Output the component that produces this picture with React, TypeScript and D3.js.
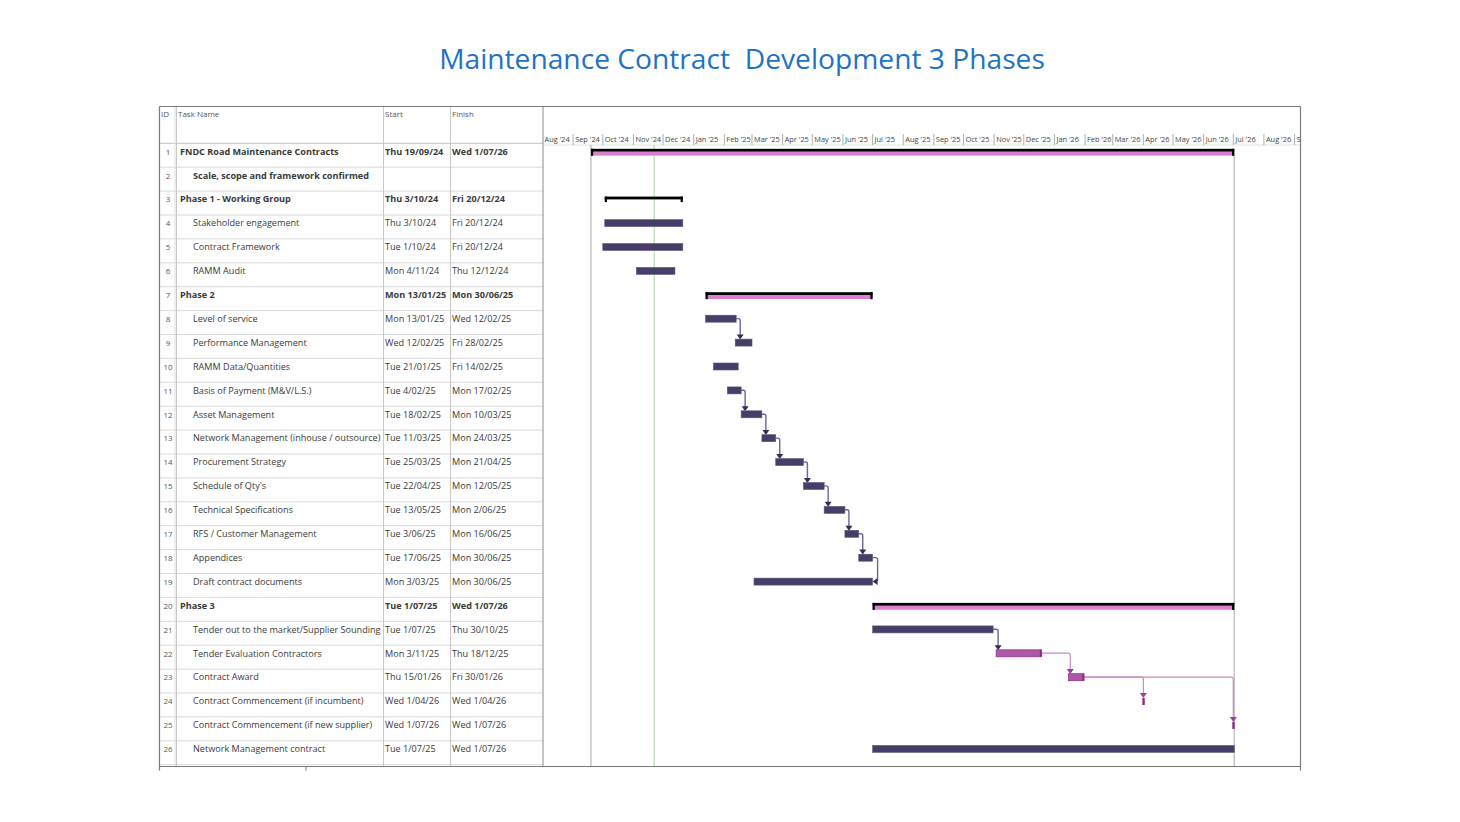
import React from "react";
import * as d3 from "d3";

// ---------------- DATA ----------------
const TITLE = "Maintenance Contract  Development 3 Phases";

const IDS = [1, 2, 3, 4, 5, 6, 7, 8, 9, 10, 11, 12, 13, 14, 15, 16, 17, 18, 19, 20, 21, 22, 23, 24, 25, 26];

const NAMES = [
  "FNDC Road Maintenance Contracts",
  "Scale, scope and framework confirmed",
  "Phase 1 - Working Group",
  "Stakeholder engagement",
  "Contract Framework",
  "RAMM Audit",
  "Phase 2",
  "Level of service",
  "Performance Management",
  "RAMM Data/Quantities",
  "Basis of Payment (M&V/L.S.)",
  "Asset Management",
  "Network Management (inhouse / outsource)",
  "Procurement Strategy",
  "Schedule of Qty's",
  "Technical Specifications",
  "RFS / Customer Management",
  "Appendices",
  "Draft contract documents",
  "Phase 3",
  "Tender out to the market/Supplier Sounding",
  "Tender Evaluation Contractors",
  "Contract Award",
  "Contract Commencement (if incumbent)",
  "Contract Commencement (if new supplier)",
  "Network Management contract",
];

const STARTS = [
  "Thu 19/09/24", "", "Thu 3/10/24", "Thu 3/10/24", "Tue 1/10/24", "Mon 4/11/24",
  "Mon 13/01/25", "Mon 13/01/25", "Wed 12/02/25", "Tue 21/01/25", "Tue 4/02/25",
  "Tue 18/02/25", "Tue 11/03/25", "Tue 25/03/25", "Tue 22/04/25", "Tue 13/05/25",
  "Tue 3/06/25", "Tue 17/06/25", "Mon 3/03/25", "Tue 1/07/25", "Tue 1/07/25",
  "Mon 3/11/25", "Thu 15/01/26", "Wed 1/04/26", "Wed 1/07/26", "Tue 1/07/25",
];

const FINISHES = [
  "Wed 1/07/26", "", "Fri 20/12/24", "Fri 20/12/24", "Fri 20/12/24", "Thu 12/12/24",
  "Mon 30/06/25", "Wed 12/02/25", "Fri 28/02/25", "Fri 14/02/25", "Mon 17/02/25",
  "Mon 10/03/25", "Mon 24/03/25", "Mon 21/04/25", "Mon 12/05/25", "Mon 2/06/25",
  "Mon 16/06/25", "Mon 30/06/25", "Mon 30/06/25", "Wed 1/07/26", "Thu 30/10/25",
  "Thu 18/12/25", "Fri 30/01/26", "Wed 1/04/26", "Wed 1/07/26", "Wed 1/07/26",
];

// outline level: 0 = top/phase, 1 = sub task
const LEVELS = [0, 1, 0, 1, 1, 1, 0, 1, 1, 1, 1, 1, 1, 1, 1, 1, 1, 1, 1, 0, 1, 1, 1, 1, 1, 1];
const BOLD = [1, 1, 1, 0, 0, 0, 1, 0, 0, 0, 0, 0, 0, 0, 0, 0, 0, 0, 0, 1, 0, 0, 0, 0, 0, 0];

// bar kind
const KINDS = [
  "summary", "none", "summaryPlain", "task", "task", "task",
  "summary", "task", "task", "task", "task", "task", "task", "task", "task", "task",
  "task", "task", "task", "summary", "task", "crit", "crit", "milestone", "milestone", "task",
];

// links: [predecessor id, successor id, type]
const LINKS: [number, number, string][] = [
  [8, 9, "FS"], [11, 12, "FS"], [12, 13, "FS"], [13, 14, "FS"], [14, 15, "FS"],
  [15, 16, "FS"], [16, 17, "FS"], [17, 18, "FS"], [18, 19, "FF"],
  [21, 22, "FS"], [22, 23, "FS"], [23, 24, "FS"], [23, 25, "FS"],
];

const TIMELINE_START = "2024-08-01";
const TIMELINE_END = "2026-09-07";
const STATUS_DATE = "2024-11-22";

// ---------------- LAYOUT ----------------
const W = 1460, H = 822;
const FL = 159.5, FR = 1300.5, FT = 106.5, FB = 766.5;
const COL_ID = 176.5, COL_START = 383.5, COL_FIN = 450.5, COL_GANTT = 543;
const ROW0 = 143.3, ROWH = 23.9;
const FONT = "'Open Sans', 'Noto Sans', sans-serif";

function parseDay(s: string): Date | null {
  if (!s) return null;
  const part = s.split(" ")[1];
  const [dd, mm, yy] = part.split("/").map(Number);
  return new Date(2000 + yy, mm - 1, dd);
}
function parseIso(s: string): Date {
  const [y, m, d] = s.split("-").map(Number);
  return new Date(y, m - 1, d);
}

const DARK = "#463e66";
const MAG = "#ad58a7";
const MAG_DARK = "#8c2c86";
const PINK = "#dc7fcf";

export default function App() {
  const x = d3
    .scaleTime()
    .domain([parseIso(TIMELINE_START), parseIso(TIMELINE_END)])
    .range([COL_GANTT - 0.5, FR]);

  const rowTop = (i: number) => ROW0 + i * ROWH;
  const cy = (i: number) => rowTop(i) + 8;

  const tasks = IDS.map((id, i) => {
    const s = parseDay(STARTS[i]);
    const f = parseDay(FINISHES[i]);
    const fEnd = f ? d3.timeDay.offset(f, 1) : null;
    return {
      id, i, kind: KINDS[i],
      x0: s ? x(s) : 0,
      x1: fEnd ? x(fEnd) : 0,
      xm: s ? x(s) : 0,
    };
  });

  const months = d3.timeMonth.range(x.domain()[0], d3.timeMonth.offset(x.domain()[1], 1));
  const fmt = d3.timeFormat("%b '%y");

  const projStart = tasks[0].x0;
  const projEnd = tasks[0].x1;
  const statusX = x(parseIso(STATUS_DATE));

  const linkEls: React.ReactNode[] = [];
  LINKS.forEach(([p, s, type], k) => {
    const a = tasks[p - 1];
    const b = tasks[s - 1];
    const y1 = cy(a.i);
    const magenta = a.kind === "crit";
    const line = magenta ? "#c98ac4" : "#6d6790";
    const head = magenta ? "#a03a99" : "#352d55";
    if (type === "FF") {
      const xv = a.x1 + 5;
      const y2 = cy(b.i);
      linkEls.push(
        <g key={"l" + k}>
          <path d={`M${a.x1},${y1}H${xv - 2}Q${xv},${y1} ${xv},${y1 + 2}V${y2 - 2}Q${xv},${y2} ${xv - 2},${y2}H${b.x1 + 3}`} fill="none" stroke={line} strokeWidth={1.4} />
          <path d={`M${b.x1},${y2}L${b.x1 + 5},${y2 - 3.5}L${b.x1 + 5},${y2 + 3.5}Z`} fill={head} />
        </g>
      );
    } else {
      const targetX = b.kind === "milestone" ? b.xm : b.x0 + 2;
      const xv = Math.max(a.x1 + 4, targetX);
      const tipY = cy(b.i) - 3;
      linkEls.push(
        <g key={"l" + k}>
          <path d={`M${a.x1},${y1}H${xv - 2}Q${xv},${y1} ${xv},${y1 + 2}V${tipY - 4}`} fill="none" stroke={line} strokeWidth={magenta ? 1.2 : 1.4} />
          <path d={`M${xv - 3.5},${tipY - 5}L${xv + 3.5},${tipY - 5}L${xv},${tipY}Z`} fill={head} />
        </g>
      );
    }
  });

  return (
    <svg width={W} height={H} style={{ position: "absolute", left: 0, top: 0, background: "#fff" }}>
      <defs>
        <clipPath id="gclip">
          <rect x={COL_GANTT} y={FT} width={FR - COL_GANTT} height={FB - FT} />
        </clipPath>
      </defs>

      {/* Title */}
      <text x={742} y={69} textAnchor="middle" fontFamily={FONT} fontSize={28.2} fill="#1f72c4" style={{ whiteSpace: "pre" }}>
        {TITLE}
      </text>

      {/* table row lines */}
      {IDS.map((_, i) => (
        <line key={"rl" + i} x1={FL} x2={COL_GANTT} y1={rowTop(i + 1)} y2={rowTop(i + 1)} stroke="#dadada" strokeWidth={1} />
      ))}
      <line x1={FL} x2={COL_GANTT} y1={ROW0} y2={ROW0} stroke="#c4c4c4" strokeWidth={1} />
      <line x1={COL_GANTT} x2={FR} y1={145} y2={145} stroke="#e2e2e2" strokeWidth={1} />

      {/* column lines */}
      {[COL_ID, COL_START, COL_FIN].map((cx, k) => (
        <line key={"cl" + k} x1={cx} x2={cx} y1={FT} y2={FB} stroke="#c9c9c9" strokeWidth={1} />
      ))}
      <line x1={COL_ID - 1.5} x2={COL_ID - 1.5} y1={FT} y2={FB} stroke="#dedede" strokeWidth={1} />
      <line x1={COL_GANTT} x2={COL_GANTT} y1={FT} y2={FB} stroke="#8c8c8c" strokeWidth={1} />

      {/* header text */}
      <g fontFamily={FONT} fontSize={8} fill="#555">
        <text x={161} y={117}>ID</text>
        <text x={178} y={117}>Task Name</text>
        <text x={385} y={117}>Start</text>
        <text x={452} y={117}>Finish</text>
      </g>

      {/* timeline months */}
      <g clipPath="url(#gclip)" fontFamily={FONT} fontSize={7.4} fill="#444">
        {months.map((m, k) => {
          const mx = x(m);
          return (
            <g key={"m" + k}>
              {k > 0 && <line x1={mx} x2={mx} y1={134} y2={145} stroke="#9a9a9a" strokeWidth={0.8} />}
              <text x={mx + 2} y={142}>{fmt(m)}</text>
            </g>
          );
        })}
      </g>

      {/* table rows text */}
      <g fontFamily={FONT} fontSize={9.1} fill="#3a3a3a">
        {IDS.map((id, i) => {
          const by = rowTop(i) + 11.3;
          const bw = BOLD[i] ? 700 : 400;
          return (
            <g key={"t" + i}>
              <text x={(FL + COL_ID) / 2} y={by} textAnchor="middle" fill="#595959" fontSize={8}>{id}</text>
              <text x={LEVELS[i] === 0 ? 180 : 193} y={by} fontWeight={bw}>{NAMES[i]}</text>
              <text x={385} y={by} fontWeight={bw}>{STARTS[i]}</text>
              <text x={452} y={by} fontWeight={bw}>{FINISHES[i]}</text>
            </g>
          );
        })}
      </g>

      {/* vertical reference lines */}
      <line x1={projStart} x2={projStart} y1={145} y2={FB} stroke="#c3c3c3" strokeWidth={1.5} />
      <line x1={statusX} x2={statusX} y1={145} y2={FB} stroke="#a9d6a0" strokeWidth={1} />
      <line x1={projEnd} x2={projEnd} y1={155} y2={FB} stroke="#c3c3c3" strokeWidth={1.5} />

      {/* links */}
      {linkEls}

      {/* bars */}
      {tasks.map((t) => {
        const top = rowTop(t.i);
        if (t.kind === "none") return null;
        if (t.kind === "summary" || t.kind === "summaryPlain") {
          return (
            <g key={"b" + t.i}>
              {t.kind === "summary" && (
                <rect x={t.x0} y={top + 8.3} width={t.x1 - t.x0} height={4} fill={PINK} />
              )}
              <rect x={t.x0} y={top + 5.5} width={t.x1 - t.x0} height={2.8} fill="#000" />
              <rect x={t.x0} y={top + 5.5} width={2.2} height={t.kind === "summary" ? 7 : 5.5} fill="#000" />
              <rect x={t.x1 - 2.2} y={top + 5.5} width={2.2} height={t.kind === "summary" ? 7 : 5.5} fill="#000" />
            </g>
          );
        }
        if (t.kind === "milestone") {
          return (
            <rect key={"b" + t.i} x={t.xm - 1} y={top + 5} width={2.4} height={7} fill="#8f2a89" />
          );
        }
        if (t.kind === "crit") {
          return (
            <g key={"b" + t.i}>
              <rect x={t.x0} y={top + 4.6} width={t.x1 - t.x0} height={7} fill={MAG} stroke={MAG_DARK} strokeWidth={0.7} />
              <rect x={t.x1 - 1.8} y={top + 4.6} width={1.8} height={7} fill={MAG_DARK} />
            </g>
          );
        }
        return (
          <rect key={"b" + t.i} x={t.x0} y={top + 4.6} width={t.x1 - t.x0} height={7} fill={DARK} stroke="#5e587f" strokeWidth={0.6} />
        );
      })}

      {/* frame */}
      <line x1={FL} x2={FR} y1={FT} y2={FT} stroke="#7a7a7a" strokeWidth={1.2} />
      <line x1={FL} x2={FL} y1={FT} y2={FB + 4} stroke="#7a7a7a" strokeWidth={1.2} />
      <line x1={FR} x2={FR} y1={FT} y2={FB + 4} stroke="#7a7a7a" strokeWidth={1.2} />
      <line x1={FL} x2={FR} y1={FB} y2={FB} stroke="#7a7a7a" strokeWidth={1.2} />
      <line x1={306} x2={306} y1={FB} y2={FB + 4} stroke="#7a7a7a" strokeWidth={1} />
    </svg>
  );
}
